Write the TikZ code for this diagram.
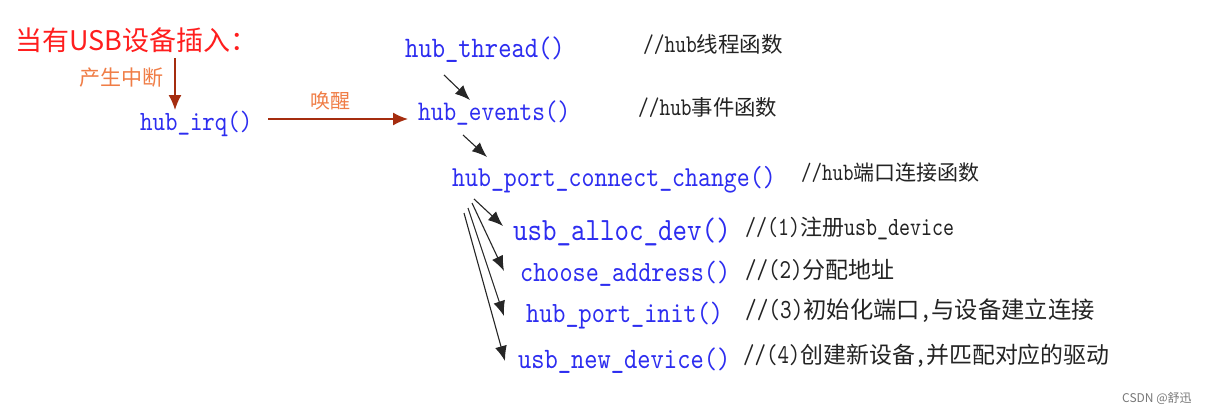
\documentclass[tikz,border=0pt]{standalone}
\usepackage{fontspec}
\usetikzlibrary{arrows.meta}
\newfontfamily\cjk{Noto Sans CJK SC}
\newfontfamily\cmtmono{lmmono10-regular}[Extension=.otf,Scale=1.19,FakeStretch=0.8]
\newfontfamily\codefont{lmmono10-regular}[Extension=.otf,FakeStretch=0.85]
\definecolor{codeblue}{RGB}{45,45,240}
\definecolor{titlered}{RGB}{255,30,30}
\definecolor{noteorange}{RGB}{240,125,70}
\definecolor{arrowbrown}{RGB}{165,45,15}
\definecolor{cmtblack}{RGB}{35,35,35}
\definecolor{wmgray}{RGB}{120,120,120}
\newcommand{\ca}[1]{{\cmtmono #1}}
\newcommand{\cc}[1]{{\cjk #1}}
\tikzset{
  code/.style={text=codeblue, inner sep=0pt, anchor=base west},
  cmt/.style={text=cmtblack, inner sep=0pt, anchor=base west},
  note/.style={text=noteorange, inner sep=0pt, anchor=base west},
  brarrow/.style={draw=arrowbrown, line width=1.5pt, -{Latex[length=15pt,width=13pt]}},
  bkarrow/.style={draw=black!85, line width=1.1pt, -{Latex[length=15pt,width=12pt]}},
}
\begin{document}
\begin{tikzpicture}[x=1pt,y=-1pt]
\useasboundingbox[fill=white] (0,0) rectangle (1205,413);
% title and labels
\node[inner sep=0pt, anchor=base west, text=titlered, font=\fontsize{27}{27}\cjk] (title) at (15,50) {当有USB设备插入：};
\node[note, font=\fontsize{21}{21}\cjk] (intr) at (79,85) {产生中断};
\node[note, font=\fontsize{20}{20}\cjk] (wake) at (310,108) {唤醒};
% code nodes
\node[code, font=\fontsize{27.9}{28}\codefont] (irq) at (140,130) {hub\_irq()};
\node[code, font=\fontsize{29.8}{30}\codefont] (thread) at (405,57.5) {hub\_thread()};
\node[code, font=\fontsize{28.4}{28}\codefont] (events) at (418,120) {hub\_events()};
\node[code, font=\fontsize{29}{29}\codefont] (pcc) at (452,186) {hub\_port\_connect\_change()};
\node[code, font=\fontsize{32.5}{32}\codefont] (alloc) at (513,240) {usb\_alloc\_dev()};
\node[code, font=\fontsize{29.4}{29}\codefont] (choose) at (520,281) {choose\_address()};
\node[code, font=\fontsize{29.4}{29}\codefont] (init) at (526,322) {hub\_port\_init()};
\node[code, font=\fontsize{29.7}{30}\codefont] (newdev) at (518,368) {usb\_new\_device()};
% comments
\node[cmt, font=\fontsize{21.5}{21}\selectfont] (cthread) at (643,52) {\ca{//hub}\cc{线程函数}};
\node[cmt, font=\fontsize{21.4}{21}\selectfont] (cevents) at (638,115) {\ca{//hub}\cc{事件函数}};
\node[cmt, font=\fontsize{21}{21}\selectfont] (cpcc) at (801,180) {\ca{//hub}\cc{端口连接函数}};
\node[cmt, font=\fontsize{22}{22}\selectfont] (calloc) at (745,235) {\ca{//(1)}\cc{注册}\ca{usb\_device}};
\node[cmt, font=\fontsize{23}{23}\selectfont] (cchoose) at (745,278) {\ca{//(2)}\cc{分配地址}};
\node[cmt, font=\fontsize{23.3}{23}\selectfont] (cinit) at (745,318) {\ca{//(3)}\cc{初始化端口}\ca{,}\cc{与设备建立连接}};
\node[cmt, font=\fontsize{22.9}{23}\selectfont] (cnewdev) at (743,363) {\ca{//(4)}\cc{创建新设备}\ca{,}\cc{并匹配对应的驱动}};
% watermark
\node[inner sep=0pt, anchor=base west, text=wmgray, font=\fontsize{12}{12}\cjk] (csdn) at (1122,402) {CSDN @舒迅};
% connector ends
\coordinate (t1) at (175,58);
\coordinate (t2) at (175,110);
\coordinate (w1) at (268,119);
\coordinate (w2) at (408,119);
\coordinate (a1) at (444,75);
\coordinate (a2) at (470,100);
\coordinate (b1) at (463,135);
\coordinate (b2) at (487,157);
\coordinate (f1s) at (474,199);
\coordinate (f1e) at (503,226);
\coordinate (f2s) at (472,203);
\coordinate (f2e) at (504,271);
\coordinate (f3s) at (468,208);
\coordinate (f3e) at (504,316);
\coordinate (f4s) at (464,213);
\coordinate (f4e) at (505,361);
% connectors
\draw[brarrow] (t1) -- (t2);
\draw[brarrow] (w1) -- (w2);
\draw[bkarrow] (a1) -- (a2);
\draw[bkarrow] (b1) -- (b2);
\draw[bkarrow] (f1s) -- (f1e);
\draw[bkarrow] (f2s) -- (f2e);
\draw[bkarrow] (f3s) -- (f3e);
\draw[bkarrow] (f4s) -- (f4e);
\end{tikzpicture}
\end{document}
